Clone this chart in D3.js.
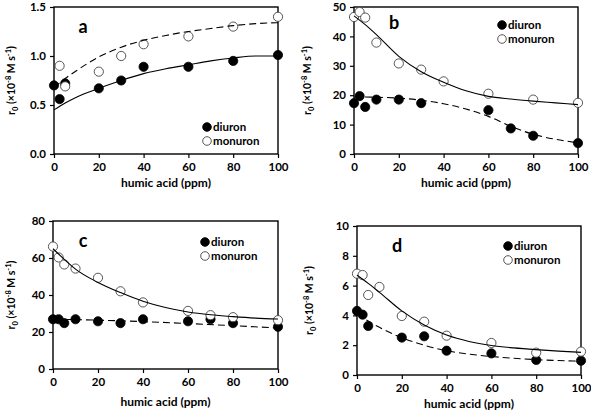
<!DOCTYPE html>
<html>
<head>
<meta charset="utf-8">
<script src="https://cdn.jsdelivr.net/npm/d3@7"></script>
<style>
  html, body { margin: 0; padding: 0; background: #fff; }
  svg { display: block; font-family: Lato, "Open Sans", sans-serif; font-weight: bold; }
</style>
</head>
<body>
<svg id="chart" width="591" height="415"></svg>
<script>
// ---------- DATA ----------
const seriesNames = ["diuron", "monuron"];
const xTicks = [0, 20, 40, 60, 80, 100];

// Panel a
const aDiuronX = [0, 2.5, 5, 20, 30, 40, 60, 80, 100];
const aDiuronY = [0.70, 0.56, 0.72, 0.67, 0.75, 0.89, 0.89, 0.95, 1.01];
const aMonuronX = [2.5, 5, 20, 30, 40, 60, 80, 100];
const aMonuronY = [0.90, 0.69, 0.84, 1.00, 1.12, 1.20, 1.30, 1.40];
const aSolidX = [0, 5, 10, 20, 30, 40, 50, 60, 70, 80, 90, 100];
const aSolidY = [0.45, 0.52, 0.58, 0.67, 0.75, 0.82, 0.87, 0.91, 0.95, 0.98, 1.00, 1.00];
const aDashX = [0, 5, 10, 20, 30, 40, 50, 60, 70, 80, 90, 100];
const aDashY = [0.68, 0.77, 0.85, 0.99, 1.09, 1.16, 1.21, 1.25, 1.28, 1.31, 1.33, 1.34];
const aYTicks = [0, 0.5, 1.0, 1.5];

// Panel b
const bDiuronX = [0, 2.5, 5, 10, 20, 30, 60, 70, 80, 100];
const bDiuronY = [17.3, 19.7, 16.0, 18.5, 18.5, 17.3, 14.9, 8.7, 6.2, 3.7];
const bMonuronX = [0, 2.5, 5, 10, 20, 30, 40, 60, 80, 100];
const bMonuronY = [46.6, 48.3, 46.4, 37.9, 30.8, 28.7, 24.7, 20.5, 18.5, 17.4];
const bSolidX = [0, 5, 10, 20, 30, 40, 50, 60, 70, 80, 90, 100];
const bSolidY = [47.0, 44.0, 40.6, 33.2, 28.0, 24.4, 21.5, 19.6, 18.7, 18.0, 17.4, 16.8];
const bDashX = [0, 10, 20, 30, 40, 50, 60, 70, 80, 90, 100];
const bDashY = [19.4, 19.3, 19.0, 18.3, 17.1, 15.3, 12.8, 9.4, 6.7, 5.0, 3.8];
const bYTicks = [0, 10, 20, 30, 40, 50];

// Panel c
const cDiuronX = [0, 2.5, 5, 10, 20, 30, 40, 60, 70, 80, 100];
const cDiuronY = [26.9, 26.9, 24.8, 26.9, 25.8, 24.8, 26.9, 25.8, 26.9, 24.8, 22.8];
const cMonuronX = [0, 2.5, 5, 10, 20, 30, 40, 60, 70, 80, 100];
const cMonuronY = [66.2, 60.3, 56.5, 54.3, 49.3, 42.0, 36.0, 31.4, 29.1, 28.0, 26.4];
const cSolidX = [0, 5, 10, 20, 30, 40, 50, 60, 70, 80, 90, 100];
const cSolidY = [65.0, 59.3, 54.0, 46.8, 41.3, 36.6, 33.2, 30.8, 29.3, 28.3, 27.5, 27.0];
const cDashX = [0, 20, 40, 60, 80, 100];
const cDashY = [26.9, 26.4, 25.6, 24.6, 23.4, 22.2];
const cYTicks = [0, 20, 40, 60, 80];

// Panel d
const dDiuronX = [0, 2.5, 5, 20, 30, 40, 60, 80, 100];
const dDiuronY = [4.30, 4.05, 3.29, 2.51, 2.60, 1.63, 1.45, 1.01, 0.96];
const dMonuronX = [0, 2.5, 5, 10, 20, 30, 40, 60, 80, 100];
const dMonuronY = [6.80, 6.71, 5.37, 5.91, 3.96, 3.58, 2.64, 2.15, 1.50, 1.57];
const dSolidX = [0, 5, 10, 20, 30, 40, 50, 60, 70, 80, 90, 100];
const dSolidY = [6.70, 6.15, 5.55, 4.30, 3.35, 2.68, 2.25, 1.98, 1.82, 1.70, 1.60, 1.52];
const dDashX = [0, 5, 10, 20, 30, 40, 50, 60, 70, 80, 90, 100];
const dDashY = [4.10, 3.62, 3.20, 2.50, 2.00, 1.63, 1.40, 1.24, 1.12, 1.03, 0.97, 0.92];
const dYTicks = [0, 2, 4, 6, 8, 10];

// ---------- LAYOUT ----------
const panels = [
  { label: "a", box: [54, 7, 278, 154], yMax: 1.5, yTicks: aYTicks, fmt: d3.format(".1f"),
    diuron: [aDiuronX, aDiuronY], monuron: [aMonuronX, aMonuronY],
    solid: [aSolidX, aSolidY], dash: [aDashX, aDashY],
    labelPos: [83, 33], legendPos: [207, 127], yTitleX: 11, xTitleOff: 33 },
  { label: "b", box: [354, 7, 578, 154], yMax: 50, yTicks: bYTicks, fmt: d3.format("d"),
    diuron: [bDiuronX, bDiuronY], monuron: [bMonuronX, bMonuronY],
    solid: [bSolidX, bSolidY], dash: [bDashX, bDashY],
    labelPos: [394, 29], legendPos: [502, 25], yTitleX: 307, xTitleOff: 33 },
  { label: "c", box: [53, 221, 278, 369], yMax: 80, yTicks: cYTicks, fmt: d3.format("d"),
    diuron: [cDiuronX, cDiuronY], monuron: [cMonuronX, cMonuronY],
    solid: [cSolidX, cSolidY], dash: [cDashX, cDashY],
    labelPos: [83, 247], legendPos: [205, 242], yTitleX: 11, xTitleOff: 37 },
  { label: "d", box: [357, 226, 581, 375], yMax: 10, yTicks: dYTicks, fmt: d3.format("d"),
    diuron: [dDiuronX, dDiuronY], monuron: [dMonuronX, dMonuronY],
    solid: [dSolidX, dSolidY], dash: [dDashX, dDashY],
    labelPos: [397, 252], legendPos: [508, 246], yTitleX: 309, xTitleOff: 33 }
];

const svg = d3.select("#chart");
const zip = (xs, ys) => xs.map((x, i) => [x, ys[i]]);

panels.forEach(p => {
  const [x0, y0, x1, y1] = p.box;
  const x = d3.scaleLinear().domain([0, 100]).range([x0, x1]);
  const y = d3.scaleLinear().domain([0, p.yMax]).range([y1, y0]);
  const g = svg.append("g");

  // axes
  const xa = g.append("g").attr("transform", `translate(0,${y1})`)
    .call(d3.axisBottom(x).tickValues(xTicks).tickSizeInner(4).tickSizeOuter(0).tickPadding(3));
  const ya = g.append("g").attr("transform", `translate(${x0},0)`)
    .call(d3.axisLeft(y).tickValues(p.yTicks).tickFormat(p.fmt).tickSizeInner(4).tickSizeOuter(0).tickPadding(4));
  [xa, ya].forEach(a => {
    a.select(".domain").remove();
    a.selectAll("line").attr("stroke", "#000").attr("stroke-width", 1.2);
    a.selectAll("text").attr("font-size", 11.5).attr("font-weight", "bold")
      .attr("font-family", "Lato, 'Open Sans', sans-serif").attr("fill", "#000");
  });
  xa.selectAll("text").attr("dy", "0.9em");

  // frame
  g.append("rect").attr("x", x0).attr("y", y0).attr("width", x1 - x0).attr("height", y1 - y0)
    .attr("fill", "none").attr("stroke", "#000").attr("stroke-width", 1.4);

  // axis titles
  g.append("text").attr("x", (x0 + x1) / 2).attr("y", y1 + p.xTitleOff).attr("text-anchor", "middle")
    .attr("font-size", 12).text("humic acid (ppm)");
  const yt = g.append("text").attr("transform", `translate(${p.yTitleX},${(y0 + y1) / 2}) rotate(-90)`)
    .attr("text-anchor", "middle").attr("font-size", 10.5).attr("dy", "0.35em");
  yt.append("tspan").text("r");
  yt.append("tspan").attr("font-size", 7.5).attr("dy", 3).text("0");
  yt.append("tspan").attr("dy", -3).text(" (×10");
  yt.append("tspan").attr("font-size", 7.5).attr("dy", -4).text("-8");
  yt.append("tspan").attr("dy", 4).text(" M s");
  yt.append("tspan").attr("font-size", 7.5).attr("dy", -4).text("-1");
  yt.append("tspan").attr("dy", 4).text(")");

  // markers: diuron (filled) then monuron (open)
  g.append("g").selectAll("circle").data(zip(...p.diuron)).join("circle")
    .attr("cx", d => x(d[0])).attr("cy", d => y(d[1])).attr("r", 4.6)
    .attr("fill", "#000").attr("stroke", "#000").attr("stroke-width", 0.8);
  g.append("g").selectAll("circle").data(zip(...p.monuron)).join("circle")
    .attr("cx", d => x(d[0])).attr("cy", d => y(d[1])).attr("r", 4.6)
    .attr("fill", "#fff").attr("stroke", "#444").attr("stroke-width", 0.9);

  // fit lines
  const line = d3.line().x(d => x(d[0])).y(d => y(d[1])).curve(d3.curveMonotoneX);
  g.append("path").datum(zip(...p.solid)).attr("d", line)
    .attr("fill", "none").attr("stroke", "#000").attr("stroke-width", 1.1);
  g.append("path").datum(zip(...p.dash)).attr("d", line)
    .attr("fill", "none").attr("stroke", "#000").attr("stroke-width", 1.1)
    .attr("stroke-dasharray", "7,4");

  // panel label
  g.append("text").attr("x", p.labelPos[0]).attr("y", p.labelPos[1]).attr("text-anchor", "middle")
    .attr("font-size", 18).text(p.label);

  // legend
  const [lx, ly] = p.legendPos;
  seriesNames.forEach((name, i) => {
    const cy = ly + i * 14;
    g.append("circle").attr("cx", lx).attr("cy", cy).attr("r", 4.3)
      .attr("fill", i === 0 ? "#000" : "#fff").attr("stroke", i === 0 ? "#000" : "#444")
      .attr("stroke-width", 0.9);
    g.append("text").attr("x", lx + 6).attr("y", cy).attr("dy", "0.35em")
      .attr("font-size", 11.5).text(name);
  });
});
</script>
</body>
</html>
